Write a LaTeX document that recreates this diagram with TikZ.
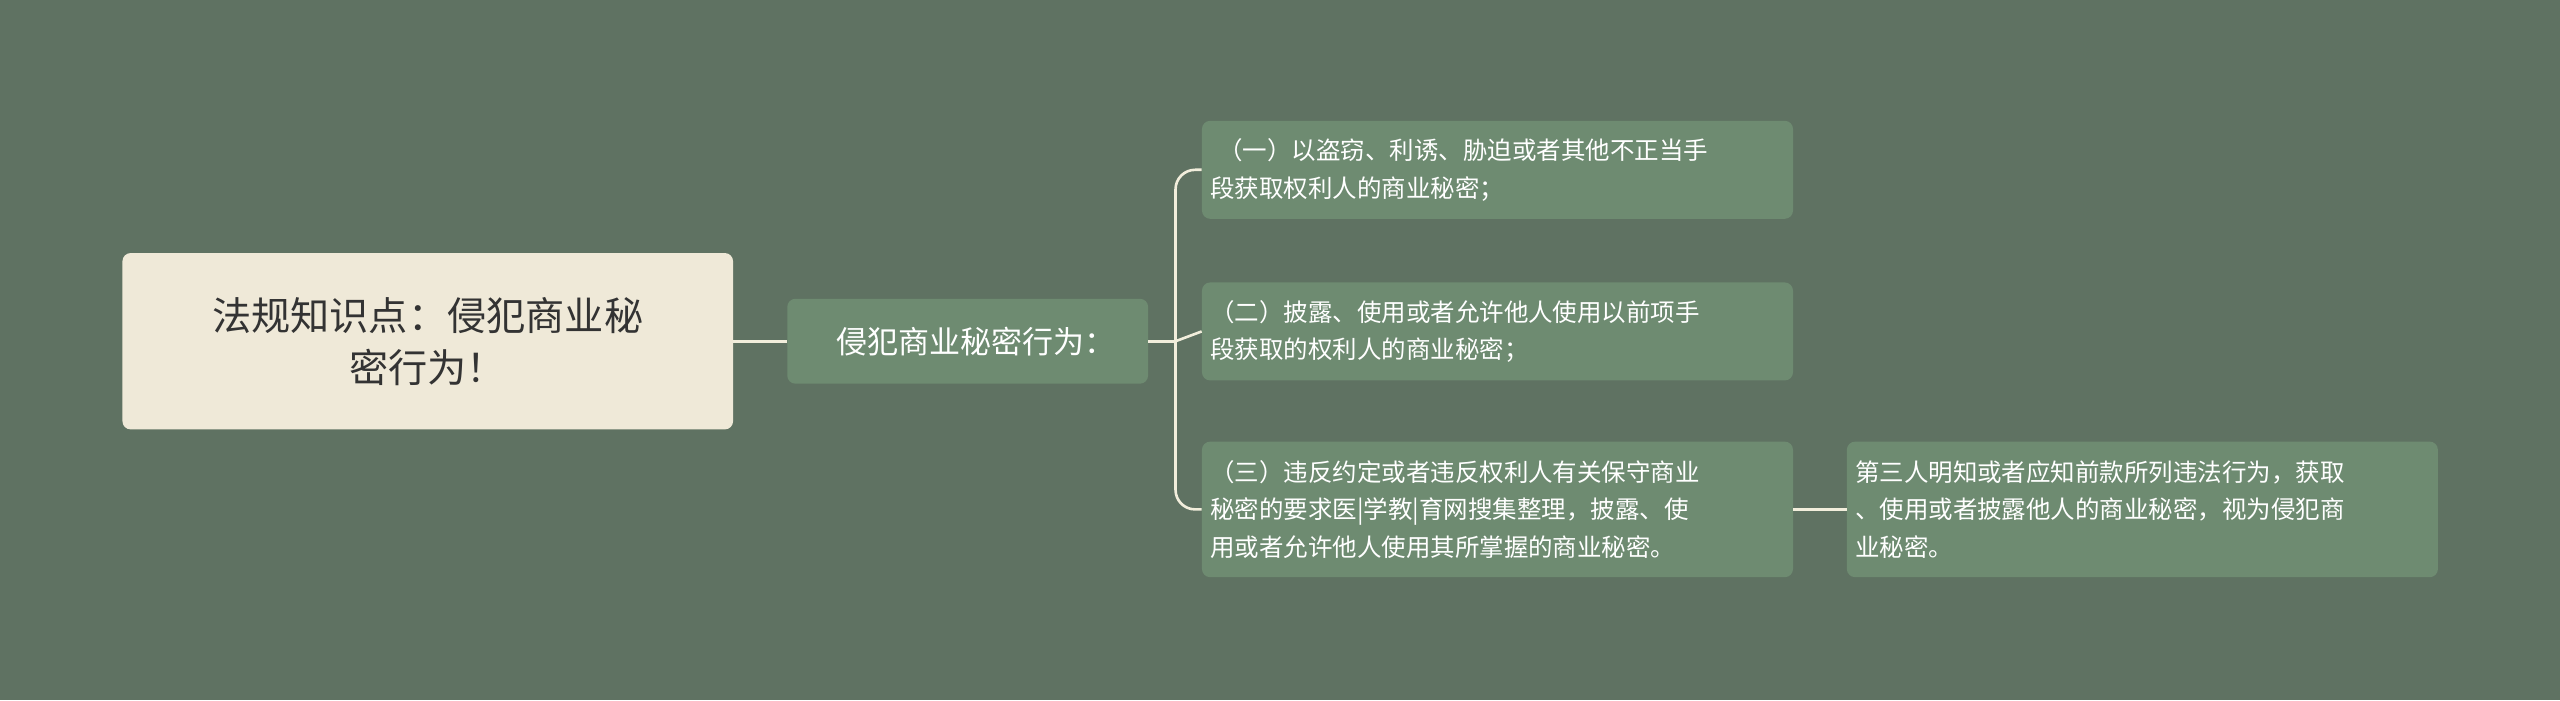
\documentclass[tikz,border=0pt]{standalone}
\usepackage{fontspec}
\setmainfont{Noto Sans CJK SC}
\definecolor{bg}{HTML}{5F7262}
\definecolor{rootf}{HTML}{EFE9D8}
\definecolor{nodef}{HTML}{6E8B71}
\definecolor{linec}{HTML}{F2EEDC}
\tikzset{
  box/.style={rounded corners=5pt, fill=nodef, text=white, inner sep=0pt},
  conn/.style={draw=linec, line width=1.6pt},
}
\begin{document}
\begin{tikzpicture}[x=1pt,y=-1pt]
\fill[bg] (0,0) rectangle (1568,429);
\useasboundingbox (0,0) rectangle (1568,429);
\node[box, fill=rootf, text=black!80, minimum width=374pt, minimum height=108pt, align=center, font=\fontsize{24}{32}\selectfont] (root) at (262,209) {法规知识点：侵犯商业秘\\密行为！};
\node[box, minimum width=221pt, minimum height=52pt, font=\fontsize{19}{24}\selectfont, anchor=west] (mid) at (482,209) {\hspace{10pt}侵犯商业秘密行为：\hspace{11pt}};
\node[box, minimum width=362pt, minimum height=60pt, anchor=west, align=left, font=\fontsize{15}{23}\selectfont, text width=352pt] (l1) at (736,104) {\hspace{5pt}（一）以盗窃、利诱、胁迫或者其他不正当手\\段获取权利人的商业秘密；};
\node[box, minimum width=362pt, minimum height=60pt, anchor=west, align=left, font=\fontsize{15}{23}\selectfont, text width=352pt] (l2) at (736,203) {（二）披露、使用或者允许他人使用以前项手\\段获取的权利人的商业秘密；};
\node[box, minimum width=362pt, minimum height=83pt, anchor=west, align=left, font=\fontsize{15}{23}\selectfont, text width=352pt] (l3) at (736,312) {（三）违反约定或者违反权利人有关保守商业\\秘密的要求医|学教|育网搜集整理，披露、使\\用或者允许他人使用其所掌握的商业秘密。};
\node[box, minimum width=362pt, minimum height=83pt, anchor=west, align=left, font=\fontsize{15}{23}\selectfont, text width=352pt] (l4) at (1131,312) {第三人明知或者应知前款所列违法行为，获取\\、使用或者披露他人的商业秘密，视为侵犯商\\业秘密。};
\draw[conn] (root.east) -- (mid.west);
\coordinate (br) at (720,209);
\draw[conn] (mid.east) -- (br);
\draw[conn, rounded corners=12pt] (l1.west) -- (720,104) -- (720,312) -- (l3.west);
\draw[conn] (br) -- (l2.west);
\draw[conn] (l3.east) -- (l4.west);
\end{tikzpicture}
\end{document}
